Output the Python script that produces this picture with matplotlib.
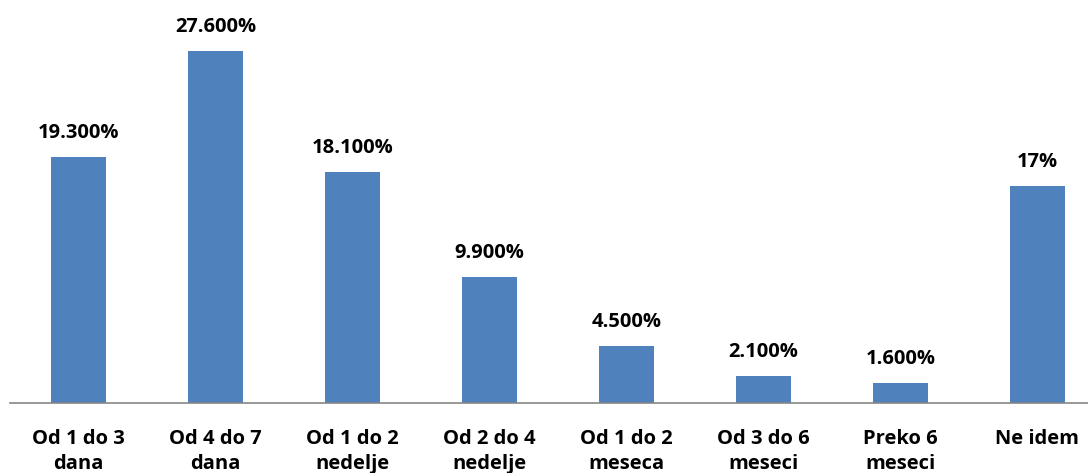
import numpy as np
import matplotlib.pyplot as plt

categories = ["Od 1 do 3\ndana", "Od 4 do 7\ndana", "Od 1 do 2\nnedelje", "Od 2 do 4\nnedelje",
              "Od 1 do 2\nmeseca", "Od 3 do 6\nmeseci", "Preko 6\nmeseci", "Ne idem"]
values = [19.3, 27.6, 18.1, 9.9, 4.5, 2.1, 1.6, 17.0]
value_labels = ["19.300%", "27.600%", "18.100%", "9.900%", "4.500%", "2.100%", "1.600%", "17%"]

plt.rcParams['font.family'] = ['Open Sans', 'DejaVu Sans']

fig = plt.figure(figsize=(10.88, 4.73), dpi=100)
ax = fig.add_axes([10/1088, 70/473, 1078/1088, 403/473])

x = np.arange(len(categories))
ax.bar(x, values, width=0.4, color="#4F81BD", zorder=2)

for xi, v, lab in zip(x, values, value_labels):
    ax.annotate(lab, (xi, v), xytext=(0, 10), textcoords="offset points",
                ha="center", va="bottom", fontsize=14.5, fontweight="bold", color="black")

ax.set_xlim(-0.5, 7.37)
ax.set_ylim(0, 31.6)
ax.set_xticks(x)
ax.set_xticklabels(categories, fontsize=14.5, fontweight="bold", linespacing=1.3)
ax.tick_params(axis="x", length=0, pad=19)
ax.set_yticks([])
for s in ["top", "right", "left"]:
    ax.spines[s].set_visible(False)
ax.spines["bottom"].set_color("#868686")
ax.spines["bottom"].set_linewidth(1.2)

fig.savefig("out.png", dpi=100)
